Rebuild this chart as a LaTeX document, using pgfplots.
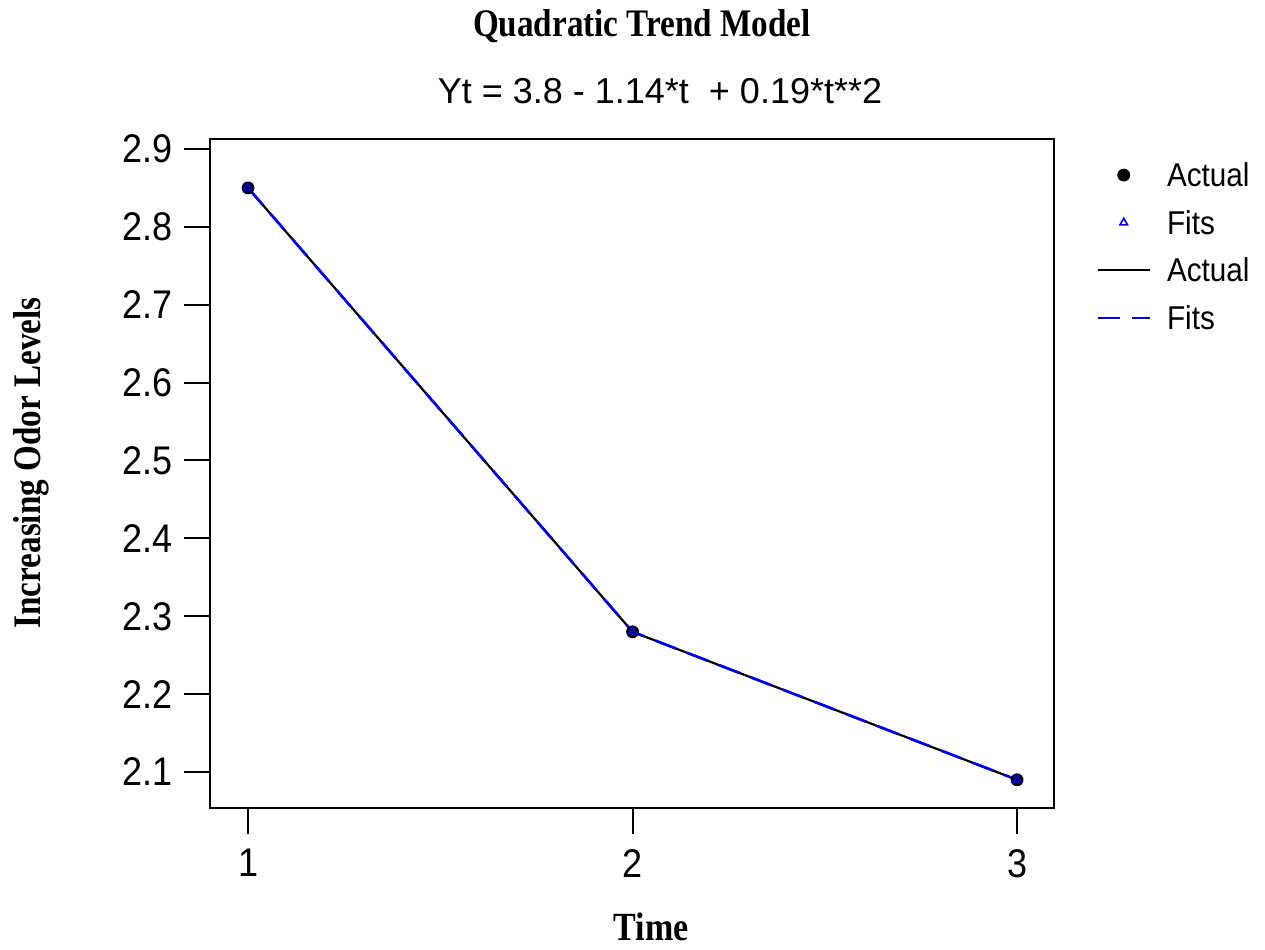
\documentclass[border=0pt]{standalone}
\usepackage{pgfplots}
\pgfplotsset{compat=1.18}
\usepackage{fontspec}
\setmainfont{Liberation Sans}
\newfontfamily\arialc[FakeStretch=0.9]{Liberation Sans}
\newfontfamily\tnr[FakeStretch=0.85]{Liberation Serif}
\begin{document}
\begin{tikzpicture}
\useasboundingbox (0,0) rectangle (632.5pt,474.5pt);
\begin{axis}[
  at={(105pt,70.5pt)}, anchor=south west,
  scale only axis, width=422pt, height=334.5pt,
  xmin=0.901, xmax=3.096, ymin=2.0538, ymax=2.9128,
  xtick={1,2,3}, ytick={2.1,2.2,2.3,2.4,2.5,2.6,2.7,2.8,2.9},
  tick align=outside, xtick pos=bottom, ytick pos=left,
  major tick length=13pt,
  every tick/.style={black, line width=1pt},
  axis line style={line width=1pt},
  tick label style={font=\arialc\fontsize{20}{20}\selectfont},
  /pgf/number format/assume math mode=true,
  yticklabel style={xshift=-2pt, /pgf/number format/.cd, fixed, fixed zerofill, precision=1},
  xticklabel style={yshift=-4pt, /pgf/number format/.cd, fixed, precision=0},
  clip=false,
  legend image code/.code={\draw[mark repeat=2,mark phase=2,#1] plot coordinates {(0pt,0pt) (13pt,0pt) (26pt,0pt)};},
  legend style={at={(rel axis cs:1.0427,0.97)}, anchor=north west, draw=none, fill=none,
    font=\arialc\fontsize{16.5}{16.5}\selectfont, cells={anchor=west}, row sep=12.2pt,
    nodes={inner sep=0pt, text height=11.6pt, text depth=0pt},
    /tikz/every odd column/.append style={column sep=8pt}},
]
\addplot[only marks, mark=*, mark size=3pt, black] coordinates {(1,2.85) (2,2.28) (3,2.09)};
\addlegendentry{Actual}
\addplot[only marks, mark=triangle, mark size=2.2pt, blue, line width=0.8pt] coordinates {(1,2.85) (2,2.28) (3,2.09)};
\addlegendentry{Fits}
\addplot[black, line width=1.1pt, mark=none] coordinates {(1,2.85) (2,2.28) (3,2.09)};
\addlegendentry{Actual}
\addplot[blue, line width=1.3pt, dash pattern=on 11pt off 6pt, mark=none] coordinates {(1,2.85) (2,2.28) (3,2.09)};
\addlegendentry{Fits}
\end{axis}
\node[anchor=base, font=\tnr\bfseries\fontsize{19.5}{19.5}\selectfont] at (321pt,456pt) {Quadratic Trend Model};
\node[anchor=base, font=\fontsize{18}{18}\selectfont] at (330pt,422.5pt) {Yt = 3.8 - 1.14*t\ \ + 0.19*t**2};
\node[anchor=base, font=\tnr\bfseries\fontsize{20}{20}\selectfont] at (325.5pt,4.5pt) {Time};
\node[anchor=base, rotate=90, font=\tnr\bfseries\fontsize{19.5}{19.5}\selectfont] at (20.5pt,243pt) {Increasing Odor Levels};
\end{tikzpicture}
\end{document}
